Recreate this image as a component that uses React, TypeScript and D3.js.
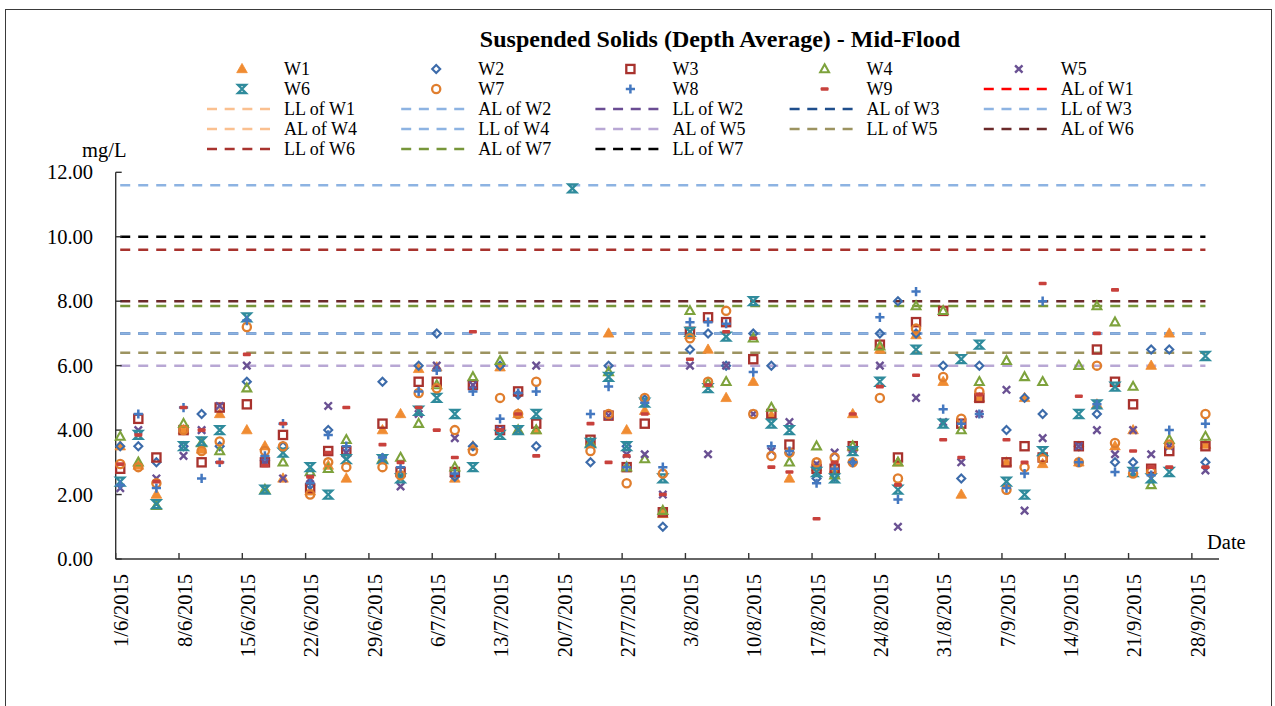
import React from "react";
import * as d3 from "d3";

const sampleDates = [
  "1/6/2015","3/6/2015","5/6/2015","8/6/2015","10/6/2015","12/6/2015","15/6/2015","17/6/2015","19/6/2015","22/6/2015","24/6/2015","26/6/2015","30/6/2015",
  "2/7/2015","4/7/2015","6/7/2015","8/7/2015","10/7/2015","13/7/2015","15/7/2015","17/7/2015","21/7/2015","23/7/2015","25/7/2015","27/7/2015","29/7/2015","31/7/2015",
  "3/8/2015","5/8/2015","7/8/2015","10/8/2015","12/8/2015","14/8/2015","17/8/2015","19/8/2015","21/8/2015","24/8/2015","26/8/2015","28/8/2015","31/8/2015",
  "2/9/2015","4/9/2015","7/9/2015","9/9/2015","11/9/2015","15/9/2015","17/9/2015","19/9/2015","21/9/2015","23/9/2015","25/9/2015","29/9/2015",
];
const sampleTime = "12:00";

const W1 = [3.5,2.9,2.0,4.0,3.4,4.5,4.0,3.5,2.5,2.1,2.9,2.5,4.0,4.5,5.9,5.95,2.5,3.5,5.95,4.5,4.0,null,3.6,7.0,4.0,4.6,1.4,6.95,6.5,5.0,5.5,4.45,2.5,2.85,2.8,4.5,6.5,3.0,6.95,5.5,2.0,5.0,3.0,5.0,2.95,3.0,4.8,3.5,4.0,6.0,7.0,3.55];
const W2 = [3.5,3.5,3.0,3.5,4.5,3.5,5.5,3.05,3.5,2.3,4.0,3.2,5.5,2.6,6.0,7.0,2.55,3.5,6.0,5.1,3.5,null,3.0,6.0,3.5,4.95,1.0,6.5,7.0,6.0,7.0,6.0,3.3,2.5,2.55,3.0,7.0,8.0,7.0,6.0,2.5,6.0,4.0,5.0,4.5,3.5,4.5,3.0,3.0,6.5,6.5,3.0];
const W3 = [2.8,4.35,3.15,4.0,3.0,4.7,4.8,3.0,3.85,2.2,3.35,3.35,4.2,2.7,5.5,5.5,2.7,5.4,4.0,5.2,4.2,null,3.7,4.45,2.85,4.2,1.45,7.05,7.5,7.35,6.2,4.5,3.55,2.8,2.8,3.5,6.65,3.15,7.35,7.7,4.2,5.0,3.0,3.5,3.15,3.5,6.5,5.5,4.8,2.8,3.35,3.5];
const W4 = [3.8,3.0,1.65,4.2,3.6,3.35,5.3,2.15,3.0,2.7,2.8,3.7,3.1,3.15,4.2,5.4,2.85,5.65,6.15,4.0,4.0,null,3.6,5.8,2.85,3.1,1.5,7.7,5.45,5.5,6.85,4.7,3.0,3.5,2.6,3.5,6.6,3.0,7.85,7.7,4.0,5.5,6.15,5.65,5.5,6.0,7.85,7.35,5.35,2.3,3.7,3.8];
const W5 = [2.2,4.0,2.5,3.2,4.0,4.75,6.0,3.0,2.5,2.5,4.75,3.3,3.1,2.25,4.5,6.0,3.75,5.4,4.0,4.0,6.0,null,3.6,4.45,3.25,3.25,2.0,6.0,3.25,6.0,4.5,3.35,4.25,2.95,3.3,3.4,6.0,1.0,5.0,4.25,3.0,4.5,5.25,1.5,3.75,3.5,4.0,3.25,4.0,3.25,3.5,2.75];
const W6 = [2.4,3.85,1.7,3.5,3.65,4.0,7.5,2.15,3.3,2.85,2.0,3.1,3.1,2.5,4.6,5.0,4.5,2.85,3.85,4.0,4.5,11.5,3.6,5.65,3.5,4.85,2.5,7.05,5.3,6.9,8.0,4.2,4.0,2.7,2.5,3.35,5.5,2.15,6.5,4.2,6.2,6.65,2.4,2.0,3.35,4.5,4.8,5.35,2.7,2.5,2.7,6.3];
const W7 = [2.95,2.85,2.35,4.0,3.35,3.65,7.2,3.35,3.5,2.0,3.0,2.85,2.85,2.6,5.15,5.3,4.0,3.35,5.0,4.5,5.5,null,3.35,4.5,2.35,5.0,2.65,6.85,5.5,7.7,4.5,3.2,3.3,3.0,3.15,3.0,5.0,2.5,7.15,5.65,4.35,5.2,2.15,2.85,3.1,3.0,6.0,3.6,2.65,2.7,3.55,4.5];
const W8 = [2.3,4.5,2.2,4.7,2.5,3.0,7.4,3.2,4.2,2.35,3.85,3.5,3.15,2.85,5.2,5.85,2.65,5.2,4.35,5.15,5.2,null,4.5,5.35,2.85,4.85,2.85,7.35,7.35,7.3,5.8,3.5,3.35,2.35,2.8,3.0,7.5,1.85,8.3,4.65,4.2,4.5,2.2,2.65,8.0,3.0,4.8,2.7,2.75,2.6,4.0,4.2];
const W9 = [2.95,3.85,2.4,4.7,4.0,3.0,6.35,2.9,4.2,2.55,3.3,4.7,3.55,3.0,4.7,4.0,3.15,7.05,4.0,4.5,3.2,null,4.2,3.0,3.2,4.5,2.0,6.2,5.4,7.05,6.85,2.85,2.7,1.25,3.0,4.5,5.35,2.3,5.7,3.7,3.15,5.1,3.7,3.0,8.55,5.05,7.0,8.35,3.35,2.85,2.85,2.85];

const seriesNames = ["W1","W2","W3","W4","W5","W6","W7","W8","W9"];
const seriesValues = [W1,W2,W3,W4,W5,W6,W7,W8,W9];
const seriesColors = ["#F08C32","#3C6BAA","#A8322D","#7DA23C","#6A5193","#2F8B9C","#E07E2E","#4478C0","#C8413C"];
const seriesShapes = ["triFill","diamond","square","triOpen","cross","star","circle","plus","dash"];

const levelNames = ["AL of W1","LL of W1","AL of W2","LL of W2","AL of W3","LL of W3","AL of W4","LL of W4","AL of W5","LL of W5","AL of W6","LL of W6","AL of W7","LL of W7"];
const levelValues: (number | null)[] = [null,null,null,null,7.0,11.6,null,7.0,6.0,6.4,8.0,9.6,7.85,10.0];
const levelColors = ["#FF0000","#FAC090","#8DB3E2","#6A4C93","#1F4E8C","#8DB3E2","#FAC090","#8DB3E2","#B8A7D4","#9C9360","#6B2A2A","#A8332E","#77963A","#000000"];
const levelStart = "1/6/2015 12:00";
const levelEnd = "29/9/2015 12:00";

const legendOrder = [
  "W1","W2","W3","W4","W5",
  "W6","W7","W8","W9","AL of W1",
  "LL of W1","AL of W2","LL of W2","AL of W3","LL of W3",
  "AL of W4","LL of W4","AL of W5","LL of W5","AL of W6",
  "LL of W6","AL of W7","LL of W7",
];

const yTicks = [0, 2, 4, 6, 8, 10, 12];
const title = "Suspended Solids (Depth Average) - Mid-Flood";

const parse = d3.timeParse("%d/%m/%Y %H:%M");
const parseDay = d3.timeParse("%d/%m/%Y");
const fmt = d3.timeFormat("%-d/%-m/%Y");

const x = d3.scaleTime()
  .domain([parseDay("1/6/2015") as Date, parseDay("1/10/2015") as Date])
  .range([115.7, 1219]);
const y = d3.scaleLinear().domain([0, 12]).range([559, 172.3]);

const xTicks = d3.range(0, 18).map((i) => d3.timeDay.offset(parseDay("1/6/2015") as Date, 7 * i));

function Marker({ shape, color, cx, cy }: { shape: string; color: string; cx: number; cy: number }) {
  const t = `translate(${cx},${cy})`;
  switch (shape) {
    case "triFill":
      return <path transform={t} d="M0,-5.6L5.3,3.7L-5.3,3.7Z" fill={color} stroke={color} strokeWidth={0.8} />;
    case "triOpen":
      return <path transform={t} d="M0,-4.7L4.4,3.2L-4.4,3.2Z" fill="none" stroke={color} strokeWidth={2.1} strokeLinejoin="miter" />;
    case "diamond":
      return <path transform={t} d="M0,-4L4,0L0,4L-4,0Z" fill="none" stroke={color} strokeWidth={2.1} />;
    case "square":
      return <rect transform={t} x={-4.1} y={-4.1} width={8.2} height={8.2} fill="none" stroke={color} strokeWidth={2.3} />;
    case "cross":
      return <path transform={t} d="M-3.7,-3.7L3.7,3.7M3.7,-3.7L-3.7,3.7" fill="none" stroke={color} strokeWidth={2.4} />;
    case "star":
      return <path transform={t} d="M-4,-4L4,-4L-4,4L4,4Z" fill="none" stroke={color} strokeWidth={2.3} strokeLinejoin="miter" />;
    case "circle":
      return <circle cx={cx} cy={cy} r={4.1} fill="none" stroke={color} strokeWidth={2.3} />;
    case "plus":
      return <path transform={t} d="M-4.6,0L4.6,0M0,-4.6L0,4.6" fill="none" stroke={color} strokeWidth={2.5} />;
    case "dash":
      return <rect transform={t} x={-4} y={-1.8} width={8} height={3.6} rx={1} fill={color} />;
    default:
      return null;
  }
}

const serif = "'Liberation Serif', 'Times New Roman', serif";

export default function App() {
  const times = sampleDates.map((d) => parse(`${d} ${sampleTime}`) as Date);
  const x0 = x(parse(levelStart) as Date);
  const x1 = x(parse(levelEnd) as Date);
  const legendX = (c: number) => 284 + 194.2 * c;
  const legendY = (r: number) => 69 + 20 * r;
  const tf = { fontFamily: serif };

  return (
    <svg width={1275} height={706} style={{ position: "absolute", left: 0, top: 0, display: "block", background: "#fff", fontFamily: serif }}>
      <rect x={5.5} y={9.5} width={1266} height={720} fill="#fff" stroke="#3a3a3a" strokeWidth={1} />
      <text x={720} y={47} textAnchor="middle" fontWeight="bold" fontSize={24} style={tf}>{title}</text>

      {legendOrder.map((name, i) => {
        const c = i % 5;
        const r = Math.floor(i / 5);
        const tx = legendX(c);
        const cy = legendY(r);
        const si = seriesNames.indexOf(name);
        const li = levelNames.indexOf(name);
        return (
          <g key={name}>
            {si >= 0 ? (
              <Marker shape={seriesShapes[si]} color={seriesColors[si]} cx={tx - 42} cy={cy} />
            ) : (
              <line x1={tx - 77} x2={tx - 14} y1={cy} y2={cy} stroke={levelColors[li]} strokeWidth={2.6} strokeDasharray="10,7.67" />
            )}
            <text x={tx} y={cy + 6} fontSize={18} style={tf}>{name}</text>
          </g>
        );
      })}

      {levelValues.map((v, i) =>
        v === null || v > 12 ? null : (
          <line key={levelNames[i]} x1={x0} x2={x1} y1={y(v)} y2={y(v)} stroke={levelColors[i]} strokeWidth={2.5} strokeDasharray="10,8" />
        )
      )}

      <line x1={x.range()[0]} x2={x.range()[0]} y1={y(12)} y2={y(0)} stroke="#333" strokeWidth={1.4} />
      <line x1={x.range()[0]} x2={x.range()[1]} y1={y(0)} y2={y(0)} stroke="#333" strokeWidth={1.4} />
      {yTicks.map((t) => (
        <g key={t}>
          <line x1={x.range()[0]} x2={x.range()[0] + 6} y1={y(t)} y2={y(t)} stroke="#333" strokeWidth={1.4} />
          <text x={93} y={y(t)} dy="0.35em" textAnchor="end" fontSize={20.5} style={tf}>{t.toFixed(2)}</text>
        </g>
      ))}
      {xTicks.map((d, i) => (
        <g key={i}>
          <line x1={x(d)} x2={x(d)} y1={y(0)} y2={y(0) - 6} stroke="#333" strokeWidth={1.4} />
          <text transform={`translate(${x(d) + 5.5},574) rotate(-90)`} dy="0.35em" textAnchor="end" fontSize={20.5} style={tf}>{fmt(d)}</text>
        </g>
      ))}
      <text x={82} y={157} fontSize={20.5} style={tf}>mg/L</text>
      <text x={1207} y={549} fontSize={20.5} style={tf}>Date</text>

      {seriesValues.map((vals, si) => (
        <g key={seriesNames[si]}>
          {vals.map((v, j) =>
            v === null ? null : (
              <Marker key={j} shape={seriesShapes[si]} color={seriesColors[si]} cx={x(times[j])} cy={y(v)} />
            )
          )}
        </g>
      ))}
    </svg>
  );
}
